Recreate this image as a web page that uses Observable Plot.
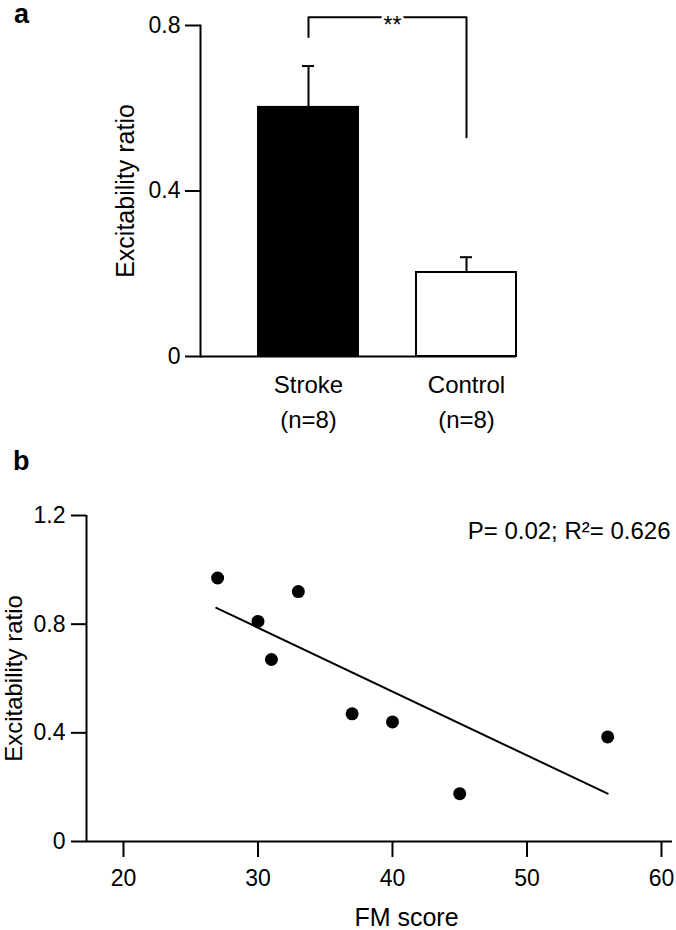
<!DOCTYPE html>
<html><head><meta charset="utf-8">
<script src="https://cdn.jsdelivr.net/npm/d3@7"></script>
<script src="https://cdn.jsdelivr.net/npm/@observablehq/plot@0.6"></script>
<style>
html,body{margin:0;padding:0;background:#fff;}
body{width:676px;height:930px;position:relative;overflow:hidden;font-family:"Liberation Sans",Arial,Helvetica,sans-serif;color:#000;}
.panel{position:absolute;left:0;}
.letter{position:absolute;font-weight:bold;font-size:27px;line-height:27px;}
</style></head><body>
<div id="a" class="panel" style="top:0"></div>
<div id="b" class="panel" style="top:440px"></div>
<div class="letter" style="left:14px;top:1px">a</div>
<div class="letter" style="left:13px;top:448px">b</div>
<script>
// ---- Panel a data ----
const groups = ["Stroke", "Control"];
const groupN = ["(n=8)", "(n=8)"];
const meanRatio = [0.602, 0.203];
const semRatio = [0.10, 0.037];
const groupFill = ["black", "white"];
const yDomainA = [0, 0.8];
const yTicksA = [0, 0.4, 0.8];
const bracketX = ["Stroke", "Stroke", "Control", "Control"];
const bracketY = [0.772, 0.82, 0.82, 0.53];
const sigLabel = "**";
const yTitle = "Excitability ratio";

// ---- Panel b data ----
const fmScore = [27, 30, 31, 33, 37, 40, 45, 56];
const excRatio = [0.97, 0.81, 0.67, 0.92, 0.47, 0.44, 0.176, 0.385];
const fitX = [26.9, 56];
const fitY = [0.86, 0.176];
const xDomainB = [17.25, 60.82];
const yDomainB = [0, 1.2];
const xTicksB = [20, 30, 40, 50, 60];
const yTicksB = [0, 0.4, 0.8, 1.2];
const statsText = "P= 0.02; R²= 0.626";
const xTitleB = "FM score";

const font = '"Liberation Sans", Arial, Helvetica, sans-serif';

const barData = groups.map((g, i) => ({
  group: g, value: meanRatio[i], top: meanRatio[i] + semRatio[i],
  fill: groupFill[i], label: g + "\n" + groupN[i]
}));
const bracket = bracketX.map((x, i) => ({x, y: bracketY[i]}));

const plotA = Plot.plot({
  width: 676, height: 440,
  marginLeft: 200, marginRight: 160, marginTop: 25, marginBottom: 84,
  style: {fontFamily: font, fontSize: "23px", color: "black", background: "white"},
  x: {type: "band", domain: groups, paddingInner: 0.367, paddingOuter: 0.1835, align: 1, axis: null},
  y: {domain: yDomainA, axis: null},
  color: {type: "identity"},
  marks: [
    Plot.barY(barData, {x: "group", y: "value", fill: "fill", stroke: "black", strokeWidth: 2}),
    Plot.ruleX(barData, {x: "group", y1: "value", y2: "top", strokeWidth: 2}),
    Plot.tickY(barData, {x: "group", y: "top", insetLeft: 44, insetRight: 44, strokeWidth: 2}),
    Plot.ruleY([0], {strokeWidth: 2}),
    Plot.frame({anchor: "left", strokeWidth: 2}),
    Plot.axisY(yTicksA, {tickSize: 15, tickPadding: 5, tickFormat: d => String(d), strokeWidth: 2, fontSize: 23, label: null}),
    Plot.line(bracket, {x: "x", y: "y", strokeWidth: 2}),
    Plot.text([{x: bracketX[1], y: bracketY[1], t: sigLabel}], {x: "x", y: "y", text: "t", dx: 84, dy: 8, fontSize: 23, fill: "black", stroke: "white", strokeWidth: 6}),
    Plot.text(barData, {x: "group", text: "label", frameAnchor: "bottom", lineAnchor: "top", dy: 12, lineHeight: 1.46, fontSize: 24}),
    Plot.text([yTitle], {text: d => d, frameAnchor: "left", textAnchor: "middle", lineAnchor: "middle", rotate: -90, dx: -75, fontSize: 25})
  ]
});
document.getElementById("a").appendChild(plotA);

const pts = fmScore.map((x, i) => ({x, y: excRatio[i]}));
const fit = fitX.map((x, i) => ({x, y: fitY[i]}));

const plotB = Plot.plot({
  width: 676, height: 490,
  marginLeft: 86, marginRight: 4, marginTop: 75, marginBottom: 89,
  style: {fontFamily: font, fontSize: "23px", color: "black", background: "white"},
  x: {domain: xDomainB, axis: null},
  y: {domain: yDomainB, axis: null},
  marks: [
    Plot.ruleX([xDomainB[0]], {strokeWidth: 2}),
    Plot.ruleY([yDomainB[0]], {strokeWidth: 2}),
    Plot.axisX(xTicksB, {tickSize: 16, tickPadding: 12, tickFormat: d => String(d), strokeWidth: 2, fontSize: 23, label: null}),
    Plot.axisY(yTicksB, {tickSize: 15, tickPadding: 6, tickFormat: d => String(d), strokeWidth: 2, fontSize: 23, label: null}),
    Plot.line(fit, {x: "x", y: "y", strokeWidth: 2}),
    Plot.dot(pts, {x: "x", y: "y", r: 6.5, fill: "black"}),
    Plot.text([statsText], {text: d => d, frameAnchor: "top-right", textAnchor: "end", lineAnchor: "top", dx: -2, dy: 6, fontSize: 24}),
    Plot.text([yTitle], {text: d => d, frameAnchor: "left", textAnchor: "middle", lineAnchor: "middle", rotate: -90, dx: -72, fontSize: 24}),
    Plot.text([xTitleB], {text: d => d, frameAnchor: "bottom", textAnchor: "middle", lineAnchor: "middle", dx: 27, dy: 76, fontSize: 25})
  ]
});
document.getElementById("b").appendChild(plotB);
</script>
</body></html>
